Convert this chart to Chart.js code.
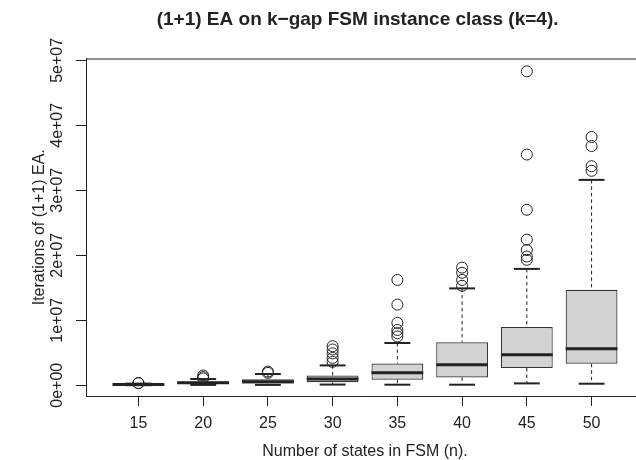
<!DOCTYPE html>
<html lang="en">
  <head>
    <meta charset="UTF-8" />
    <style>
      html, body { margin: 0; padding: 0; overflow: hidden; background: #fff; }
    </style>
  </head>
  <body>
    <canvas id="myChart" width="715" height="460"></canvas>
    <script src="https://cdn.jsdelivr.net/npm/chart.js@4.4.0/dist/chart.umd.min.js"></script>
    <script>
      // box plot stats per FSM size
      var categories = ["15", "20", "25", "30", "35", "40", "45", "50"];
      var lowerWhisker = [0.0e6, 0.05e6, 0.05e6, 0.1e6, 0.08e6, 0.08e6, 0.28e6, 0.23e6];
      var q1 = [0.05e6, 0.22e6, 0.25e6, 0.45e6, 0.85e6, 1.2e6, 2.65e6, 3.3e6];
      var median = [0.1e6, 0.38e6, 0.55e6, 0.95e6, 1.9e6, 3.15e6, 4.7e6, 5.6e6];
      var q3 = [0.15e6, 0.58e6, 0.9e6, 1.5e6, 3.35e6, 6.6e6, 8.95e6, 14.7e6];
      var upperWhisker = [0.25e6, 0.95e6, 1.72e6, 3.05e6, 6.5e6, 14.9e6, 17.9e6, 31.6e6];
      var outliers = [
        [0.3e6, 0.35e6],
        [1.05e6, 1.25e6, 1.5e6],
        [1.9e6, 2.1e6],
        [3.6e6, 4.2e6, 4.9e6, 5.5e6, 6.0e6],
        [7.5e6, 8.0e6, 8.5e6, 9.6e6, 12.4e6, 16.2e6],
        [15.3e6, 16.2e6, 17.3e6, 18.1e6],
        [19.3e6, 19.8e6, 20.8e6, 22.4e6, 27.0e6, 35.5e6, 48.3e6],
        [33.0e6, 33.7e6, 36.8e6, 38.2e6],
      ];
      var yTicks = [0, 1e7, 2e7, 3e7, 4e7, 5e7];
      var yTickLabels = ["0e+00", "1e+07", "2e+07", "3e+07", "4e+07", "5e+07"];

      var ink = "#222";
      Chart.defaults.font.family = "'Liberation Sans', Arial, sans-serif";
      Chart.defaults.color = ink;

      var boxes = categories.map(function (c, i) {
        return { x: i + 1, y: [q1[i], q3[i]] };
      });
      var outPoints = [];
      outliers.forEach(function (list, i) {
        list.forEach(function (v) {
          outPoints.push({ x: i + 1, y: v });
        });
      });

      function seg(ctx, x1, y1, x2, y2) {
        ctx.beginPath();
        ctx.moveTo(x1, y1);
        ctx.lineTo(x2, y2);
        ctx.stroke();
      }

      // whiskers, staples, medians, top frame line and rotated y labels
      var boxParts = {
        id: "boxParts",
        afterDatasetsDraw: function (chart) {
          var ctx = chart.ctx;
          var xs = chart.scales.x;
          var ys = chart.scales.y;
          var half = xs.getPixelForValue(1.4) - xs.getPixelForValue(1);
          ctx.save();
          ctx.strokeStyle = ink;
          categories.forEach(function (c, i) {
            var px = xs.getPixelForValue(i + 1);
            ctx.lineWidth = 1;
            ctx.setLineDash([3.5, 3]);
            seg(ctx, px, ys.getPixelForValue(upperWhisker[i]), px, ys.getPixelForValue(q3[i]));
            seg(ctx, px, ys.getPixelForValue(q1[i]), px, ys.getPixelForValue(lowerWhisker[i]));
            ctx.setLineDash([]);
            ctx.lineWidth = 2;
            var uy = ys.getPixelForValue(upperWhisker[i]);
            var ly = ys.getPixelForValue(lowerWhisker[i]);
            seg(ctx, px - half / 2, uy, px + half / 2, uy);
            seg(ctx, px - half / 2, ly, px + half / 2, ly);
            ctx.lineWidth = 3;
            var my = ys.getPixelForValue(median[i]);
            seg(ctx, px - half, my, px + half, my);
          });
          ctx.restore();
        },
        afterDraw: function (chart) {
          var ctx = chart.ctx;
          var area = chart.chartArea;
          var ys = chart.scales.y;
          ctx.save();
          ctx.strokeStyle = ink;
          ctx.lineWidth = 1;
          seg(ctx, area.left, area.top + 0.5, area.right, area.top + 0.5);
          ctx.fillStyle = ink;
          ctx.font = "16px 'Liberation Sans', Arial, sans-serif";
          ctx.textAlign = "center";
          ctx.textBaseline = "alphabetic";
          yTicks.forEach(function (v, i) {
            ctx.save();
            ctx.translate(62, ys.getPixelForValue(v));
            ctx.rotate(-Math.PI / 2);
            ctx.fillText(yTickLabels[i], 0, 0);
            ctx.restore();
          });
          ctx.restore();
        },
      };

      var ctx = document.getElementById("myChart").getContext("2d");
      var chart = new Chart(ctx, {
        type: "bar",
        data: {
          datasets: [
            {
              data: boxes,
              backgroundColor: "#d3d3d3",
              borderColor: "#333",
              borderWidth: 1.2,
              borderSkipped: false,
              barPercentage: 0.8,
              categoryPercentage: 1,
            },
            {
              type: "scatter",
              data: outPoints,
              pointRadius: 5.5,
              pointHoverRadius: 5.5,
              pointBorderWidth: 1,
              pointBorderColor: ink,
              pointBackgroundColor: "rgba(0,0,0,0)",
            },
          ],
        },
        options: {
          responsive: false,
          animation: false,
          layout: { padding: { left: 71.2, right: 71, top: 0, bottom: 0 } },
          plugins: {
            legend: { display: false },
            tooltip: { enabled: false },
            title: {
              display: true,
              text: "(1+1) EA on k\u2212gap FSM instance class (k=4).",
              font: { size: 19, weight: "bold" },
              color: ink,
              padding: { top: 8.5, bottom: 27.2 },
            },
          },
          scales: {
            x: {
              type: "linear",
              position: "bottom",
              offset: false,
              min: 0.19,
              max: 8.81,
              afterBuildTicks: function (s) {
                s.ticks = categories.map(function (c, i) {
                  return { value: i + 1 };
                });
              },
              afterFit: function (s) {
                s.height = 64;
              },
              ticks: {
                autoSkip: false,
                maxRotation: 0,
                padding: 7.7,
                font: { size: 16 },
                color: ink,
                callback: function (v) {
                  return categories[Math.round(v) - 1];
                },
              },
              grid: {
                offset: false,
                drawOnChartArea: false,
                drawTicks: true,
                tickLength: 10,
                color: ink,
              },
              border: { display: true, color: ink, width: 1 },
              title: {
                display: true,
                text: "Number of states in FSM (n).",
                font: { size: 16, lineHeight: 1 },
                color: ink,
                padding: 0,
              },
            },
            y: {
              type: "linear",
              min: -1.66e6,
              max: 5.028e7,
              afterBuildTicks: function (s) {
                s.ticks = yTicks.map(function (v) {
                  return { value: v };
                });
              },
              afterFit: function (s) {
                s.width = 14.8;
              },
              ticks: { display: false },
              grid: {
                drawOnChartArea: false,
                drawTicks: true,
                tickLength: 10,
                color: ink,
              },
              border: { display: true, color: ink, width: 1 },
              title: {
                display: true,
                text: "Iterations of (1+1) EA.",
                font: { size: 16, lineHeight: 1.2 },
                color: ink,
                padding: { top: -41.4, bottom: 0 },
              },
            },
          },
        },
        plugins: [boxParts],
      });
    </script>
  </body>
</html>
